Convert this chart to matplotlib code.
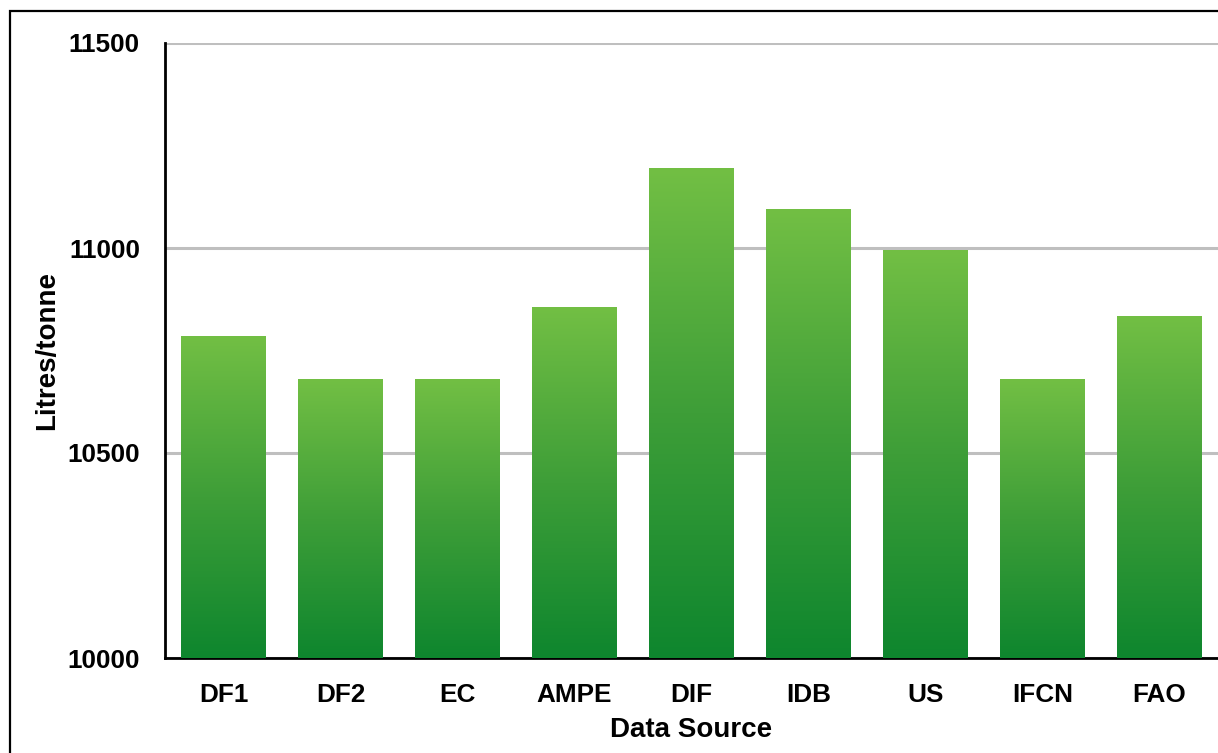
import numpy as np
import matplotlib
matplotlib.use("Agg")
import matplotlib.pyplot as plt
from matplotlib.colors import LinearSegmentedColormap
from matplotlib.patches import Rectangle

plt.rcParams['font.family'] = ['Liberation Sans', 'DejaVu Sans']
plt.rcParams['font.weight'] = 'bold'

# Milk-to-fuel conversion estimates by data source
sources = ["DF1", "DF2", "EC", "AMPE", "DIF", "IDB", "US", "IFCN", "FAO"]
litres_per_tonne = [10785, 10680, 10680, 10855, 11195, 11093, 10995, 10680, 10832]

y_ticks = [10000, 10500, 11000, 11500]
y_min, y_max = 10000, 11500

fig = plt.figure(figsize=(12.18, 7.53), dpi=100)
W, H = 1218, 753
ax = fig.add_axes([165 / W, 1 - 658 / H, (1218 - 165) / W, (658 - 43) / H])

# vertical gradient: dark green at the base, lighter green at the top
grad_cmap = LinearSegmentedColormap.from_list(
    "bar_grad", ["#0E862E", "#3E9E38", "#72BF44"])
grad = np.linspace(0, 1, 256).reshape(-1, 1)

bar_width = 0.725
x = np.arange(len(sources))
bars = ax.bar(x, [v - y_min for v in litres_per_tonne], bottom=y_min,
              width=bar_width, color="none", edgecolor="none", zorder=3)
for bar, val in zip(bars, litres_per_tonne):
    x0 = bar.get_x()
    x1 = x0 + bar.get_width()
    ax.imshow(grad, cmap=grad_cmap, origin="lower", aspect="auto",
              extent=[x0, x1, y_min, val], zorder=3, interpolation="bicubic")

ax.set_xlim(-0.5, len(sources) - 0.5)
ax.set_ylim(y_min, y_max)
ax.set_yticks(y_ticks)
ax.set_yticklabels([str(t) for t in y_ticks])
ax.set_xticks(x)
ax.set_xticklabels(sources)

ax.yaxis.grid(True, color="#BFBFBF", linewidth=2.2, zorder=0)
ax.set_axisbelow(True)
ax.tick_params(axis="both", length=0, labelsize=18.8)
ax.tick_params(axis="y", pad=18)
ax.tick_params(axis="x", pad=18)
for lbl in ax.get_xticklabels() + ax.get_yticklabels():
    lbl.set_fontweight("bold")

for side in ("top", "right"):
    ax.spines[side].set_visible(False)
for side in ("left", "bottom"):
    ax.spines[side].set_linewidth(2)
    ax.spines[side].set_color("black")

ax.set_xlabel("Data Source", fontsize=20, fontweight="bold", labelpad=7)
ax.set_ylabel("Litres/tonne", fontsize=20, fontweight="bold", labelpad=0)
ax.yaxis.set_label_coords(-(165 - 60) / (1218 - 165), 0.5)

# outer chart-area frame
fig.patches.append(Rectangle((9.5 / W, -0.2), 1.5, 1 - 11 / H + 0.2,
                             transform=fig.transFigure, fill=False,
                             edgecolor="black", linewidth=1.6))

fig.savefig("out.png", dpi=100)
